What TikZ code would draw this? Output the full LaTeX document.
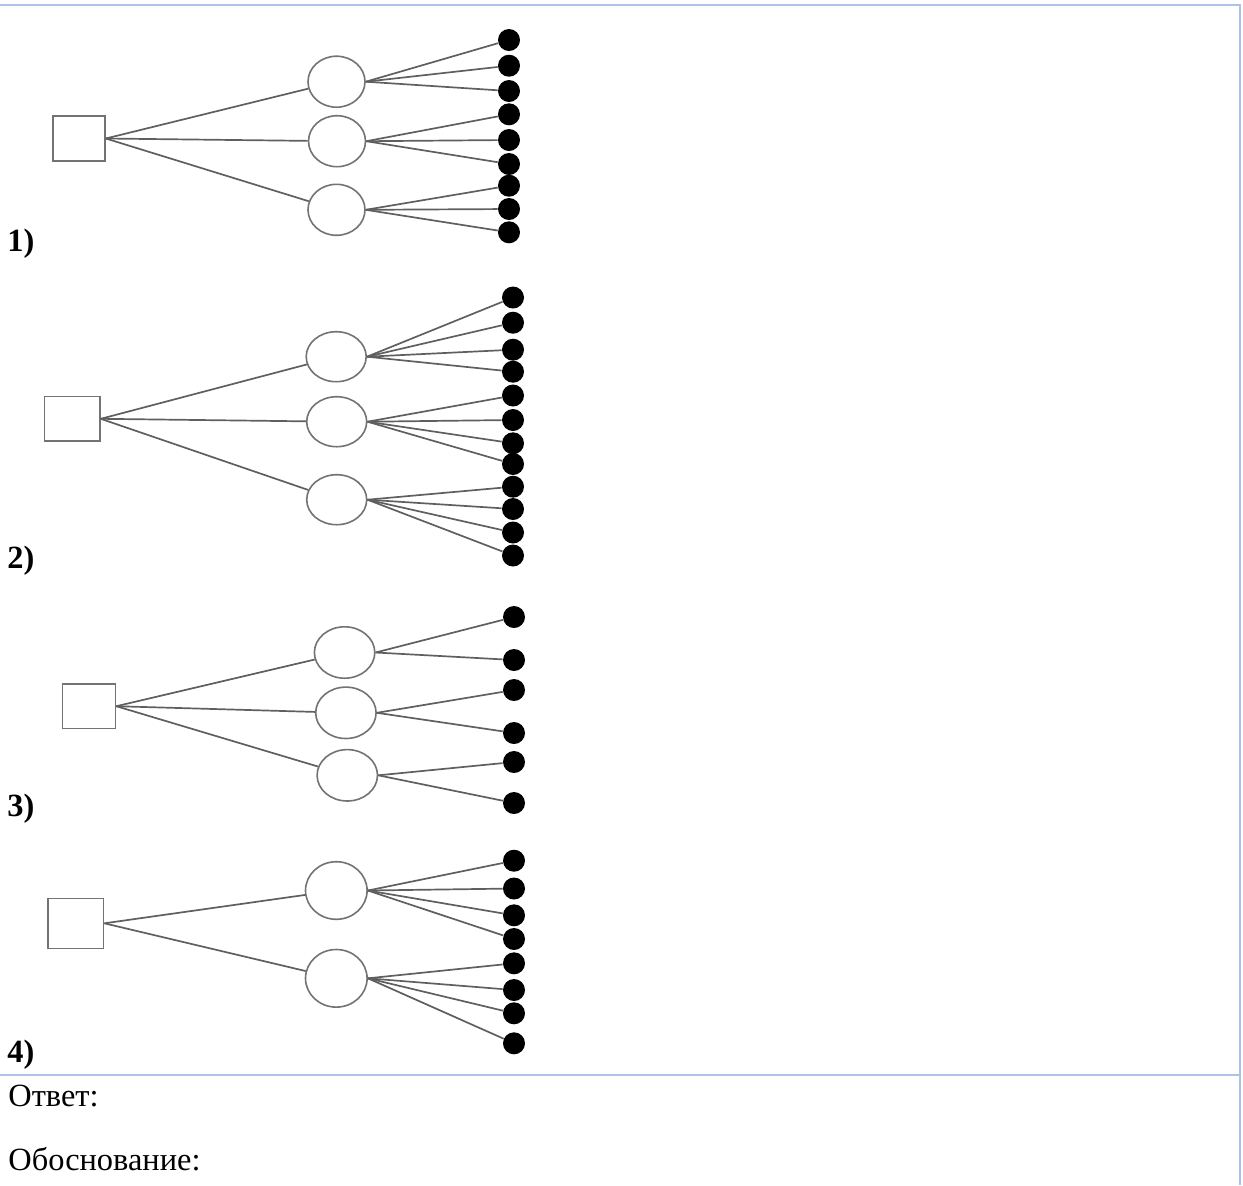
\documentclass[tikz,border=0pt]{standalone}
\usepackage{fontspec}
\setmainfont{Liberation Serif}
\usetikzlibrary{shapes.geometric}
\definecolor{tblborder}{RGB}{172,194,230}
\definecolor{edgegray}{RGB}{95,95,95}
\definecolor{shapegray}{RGB}{115,115,115}
\begin{document}
\begin{tikzpicture}[x=0.5pt,y=-0.5pt,
  boxnode/.style={rectangle,draw=shapegray,line width=0.8pt,inner sep=0pt,fill=white},
  ovalnode/.style={ellipse,draw=shapegray,line width=0.8pt,inner sep=0pt,fill=white},
  leafdot/.style={circle,fill=black,inner sep=0pt,minimum size=11pt},
  conn/.style={draw=edgegray,line width=0.85pt},
  lbl/.style={anchor=base west,inner sep=0pt,font=\fontsize{16.2}{19}\selectfont},
  numlbl/.style={anchor=base west,inner sep=0pt,font=\fontsize{16.2}{19}\selectfont\bfseries},
  tblline/.style={draw=tblborder,line width=1pt}]
\useasboundingbox (0,0) rectangle (1243,1185);
% table borders
\draw[tblline] (0,4.5) -- (1239.5,4.5) -- (1239.5,1185);
\draw[tblline] (0,1074.5) -- (1239.5,1074.5);

% ---------- Panel 1 ----------
\node[boxnode,minimum width=26pt,minimum height=22.5pt] (s1) at (79,138.5) {};
\node[ovalnode,minimum width=28.5pt,minimum height=25.5pt] (a1) at (336.5,81.7) {};
\node[ovalnode,minimum width=28.5pt,minimum height=25.5pt] (a2) at (337,141.2) {};
\node[ovalnode,minimum width=28.5pt,minimum height=25.5pt] (a3) at (336.5,209.8) {};
\foreach \yy [count=\i] in {40,65.7,91,114.3,140,164,185.7,209,232.3}
  \node[leafdot] (ad\i) at (509,\yy) {};
\foreach \e in {a1,a2,a3} \draw[conn] (s1.east) -- (\e);
\foreach \i in {1,2,3} \draw[conn] (a1.east) -- (ad\i);
\foreach \i in {4,5,6} \draw[conn] (a2.east) -- (ad\i);
\foreach \i in {7,8,9} \draw[conn] (a3.east) -- (ad\i);
\node[numlbl] (l1) at (7,251) {1)};

% ---------- Panel 2 ----------
\node[boxnode,minimum width=27.8pt,minimum height=22.2pt] (s2) at (72.2,418.8) {};
\node[ovalnode,minimum width=30pt,minimum height=25pt] (b1) at (336.2,356.7) {};
\node[ovalnode,minimum width=30pt,minimum height=25pt] (b2) at (336.7,421.7) {};
\node[ovalnode,minimum width=30pt,minimum height=25pt] (b3) at (336.7,499.7) {};
\foreach \yy [count=\i] in {297.5,322.7,349.7,371.7,395.5,420,443.3,464,486.7,509,532.5,555.5}
  \node[leafdot] (bd\i) at (513,\yy) {};
\foreach \e in {b1,b2,b3} \draw[conn] (s2.east) -- (\e);
\foreach \i in {1,2,3,4} \draw[conn] (b1.east) -- (bd\i);
\foreach \i in {5,6,7,8} \draw[conn] (b2.east) -- (bd\i);
\foreach \i in {9,10,11,12} \draw[conn] (b3.east) -- (bd\i);
\node[numlbl] (l2) at (7,568) {2)};

% ---------- Panel 3 ----------
\node[boxnode,minimum width=26.5pt,minimum height=22.2pt] (s3) at (89,706.2) {};
\node[ovalnode,minimum width=30.2pt,minimum height=25.7pt] (c1) at (344.6,652.5) {};
\node[ovalnode,minimum width=30.2pt,minimum height=25.7pt] (c2) at (345.9,712.8) {};
\node[ovalnode,minimum width=30.2pt,minimum height=25.7pt] (c3) at (347.3,775.3) {};
\foreach \yy [count=\i] in {617,660,690,733,762,803}
  \node[leafdot] (cd\i) at (514,\yy) {};
\foreach \e in {c1,c2,c3} \draw[conn] (s3.east) -- (\e);
\foreach \i in {1,2} \draw[conn] (c1.east) -- (cd\i);
\foreach \i in {3,4} \draw[conn] (c2.east) -- (cd\i);
\foreach \i in {5,6} \draw[conn] (c3.east) -- (cd\i);
\node[numlbl] (l3) at (7,816) {3)};

% ---------- Panel 4 ----------
\node[boxnode,minimum width=27.7pt,minimum height=25pt] (s4) at (75.9,923.3) {};
\node[ovalnode,minimum width=30.8pt,minimum height=28.8pt] (f1) at (336.3,890.5) {};
\node[ovalnode,minimum width=30.8pt,minimum height=28.8pt] (f2) at (336.3,978.3) {};
\foreach \yy [count=\i] in {860.7,888.5,915.3,939,963.3,990,1013.3,1043.3}
  \node[leafdot] (fd\i) at (514,\yy) {};
\foreach \e in {f1,f2} \draw[conn] (s4.east) -- (\e);
\foreach \i in {1,2,3,4} \draw[conn] (f1.east) -- (fd\i);
\foreach \i in {5,6,7,8} \draw[conn] (f2.east) -- (fd\i);
\node[numlbl] (l4) at (7,1062) {4)};

% ---------- Answer rows ----------
\node[lbl] (ans) at (8,1106) {Ответ:};
\node[lbl] (just) at (8,1170) {Обоснование:};
\end{tikzpicture}
\end{document}
